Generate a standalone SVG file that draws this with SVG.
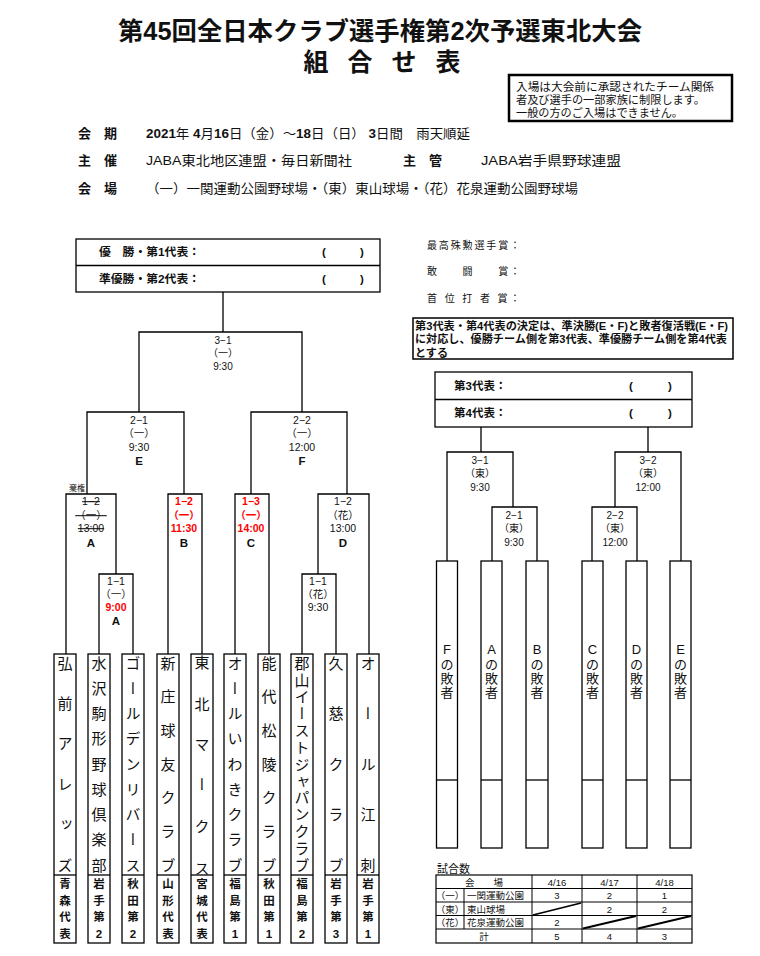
<svg xmlns="http://www.w3.org/2000/svg" width="760" height="956" viewBox="0 0 760 956">
<style>
text{font-family:"Liberation Sans","Noto Sans CJK JP",sans-serif;fill:#111}
.t{font-weight:bold;font-size:25px}
.info{font-size:13px}
.b{font-weight:bold}
.s{font-size:10px;text-anchor:middle}
.m{font-size:10.5px;text-anchor:middle}
.L{font-size:11.5px;font-weight:bold;text-anchor:middle}
.red{fill:#ff0000;font-weight:bold}
.strike{text-decoration:line-through}
.v{font-family:"Noto Sans CJK JP",sans-serif;font-size:15px;writing-mode:vertical-rl}
.pf{font-size:11.5px;font-weight:bold;text-anchor:middle}
.ln{fill:none;stroke:#000;stroke-width:1.3}
.box{fill:#fff;stroke:#000;stroke-width:1.3}
.tb{font-size:9.5px;text-anchor:middle}
</style>

<g id="title">
<text x="380" y="39.5" class="t" text-anchor="middle" textLength="524" lengthAdjust="spacingAndGlyphs">第45回全日本クラブ選手権第2次予選東北大会</text>
<text x="382" y="70.5" class="t" text-anchor="middle" textLength="157" lengthAdjust="spacing">組　合　せ　表</text>
</g>

<g id="entry-note">
<rect x="509" y="75" width="223" height="46" fill="#fff" stroke="#000" stroke-width="2.5"/>
<text x="516" y="91" font-size="11.5" textLength="198" lengthAdjust="spacingAndGlyphs">入場は大会前に承認されたチーム関係</text>
<text x="516" y="104" font-size="11.5" textLength="189" lengthAdjust="spacingAndGlyphs">者及び選手の一部家族に制限します。</text>
<text x="516" y="117" font-size="11.5" textLength="167" lengthAdjust="spacingAndGlyphs">一般の方のご入場はできません。</text>
</g>

<g id="info">
<text x="78" y="138" class="info b">会　期</text>
<text x="146" y="138" class="info" textLength="324" lengthAdjust="spacingAndGlyphs"><tspan class="b">2021</tspan>年 <tspan class="b">4</tspan>月<tspan class="b">16</tspan>日（金）～<tspan class="b">18</tspan>日（日） <tspan class="b">3</tspan>日間　雨天順延</text>
<text x="78" y="165" class="info b">主　催</text>
<text x="146" y="165" class="info" textLength="206" lengthAdjust="spacingAndGlyphs">JABA東北地区連盟・毎日新聞社</text>
<text x="403" y="165" class="info b">主　管</text>
<text x="481" y="165" class="info" textLength="140" lengthAdjust="spacingAndGlyphs">JABA岩手県野球連盟</text>
<text x="78" y="193" class="info b">会　場</text>
<text x="146" y="193" class="info" textLength="432" lengthAdjust="spacingAndGlyphs">（一）一関運動公園野球場・（東）東山球場・（花）花泉運動公園野球場</text>
</g>

<g id="champion-box">
<rect x="76" y="239" width="304" height="53" class="box"/>
<line x1="76" y1="265.5" x2="380" y2="265.5" class="ln"/>
<text x="99" y="256" font-size="11.5" class="b" textLength="101" lengthAdjust="spacingAndGlyphs">優　勝・第1代表：</text>
<text x="99" y="283" font-size="11.5" class="b" textLength="101" lengthAdjust="spacingAndGlyphs">準優勝・第2代表：</text>
<text x="322" y="256" font-size="11.5" class="b">(</text><text x="360" y="256" font-size="11.5" class="b">)</text>
<text x="322" y="283" font-size="11.5" class="b">(</text><text x="360" y="283" font-size="11.5" class="b">)</text>
</g>

<g id="awards">
<text x="427" y="249" font-size="10" fill="#222" textLength="93" lengthAdjust="spacing">最高殊勲選手賞：</text>
<text x="427" y="275" font-size="10" fill="#222" textLength="93" lengthAdjust="spacing">敢　　闘　　賞：</text>
<text x="427" y="302" font-size="10" fill="#222" textLength="93" lengthAdjust="spacing">首 位 打 者 賞：</text>
</g>

<g id="rep-note">
<rect x="413" y="318" width="320" height="41" fill="#fff" stroke="#000" stroke-width="1.5"/>
<text x="415" y="329.5" font-size="11" class="b" textLength="313" lengthAdjust="spacingAndGlyphs">第3代表・第4代表の決定は、準決勝(E・F)と敗者復活戦(E・F)</text>
<text x="415" y="343" font-size="11" class="b" textLength="312" lengthAdjust="spacingAndGlyphs">に対応し、優勝チーム側を第3代表、準優勝チーム側を第4代表</text>
<text x="415" y="356.5" font-size="11" class="b" textLength="33" lengthAdjust="spacingAndGlyphs">とする</text>
</g>

<g id="rep34-box">
<rect x="435" y="372" width="257" height="55" class="box"/>
<line x1="435" y1="399.5" x2="692" y2="399.5" class="ln"/>
<text x="454" y="390" font-size="11.5" class="b">第3代表：</text>
<text x="454" y="417" font-size="11.5" class="b">第4代表：</text>
<text x="629" y="390" font-size="11.5" class="b">(</text><text x="668" y="390" font-size="11.5" class="b">)</text>
<text x="629" y="417" font-size="11.5" class="b">(</text><text x="668" y="417" font-size="11.5" class="b">)</text>
</g>

<g id="connectors">
<path class="ln" d="M223 292V332M139 412V332H302V412M87 494V412H184V494M251 494V412H347V494M66 654V494H116V574M99 654V574H133V654M168 654V494H202V654M235 654V494H269V654M302 654V574H336V654M318 574V494H369V654"/>
<path class="ln" d="M481 427V452M447 561V452H513V507M492 561V507H537V561M648 427V452M681 561V452H615V507M592 561V507H637V561"/>
</g>

<g id="m3-1">
<text x="223" y="344" class="s">3−1</text><text x="223" y="357" class="s">（一）</text><text x="223" y="370" class="s">9:30</text>
</g>
<g id="m2-1">
<text x="139" y="424" class="m">2−1</text><text x="139" y="437" class="m">（一）</text><text x="139" y="451" class="m">9:30</text><text x="139" y="464.5" class="L">E</text>
</g>
<g id="m2-2">
<text x="302" y="424" class="m">2−2</text><text x="302" y="437" class="m">（一）</text><text x="302" y="451" class="m">12:00</text><text x="302" y="464.5" class="L">F</text>
</g>
<g id="mA">
<text x="77" y="491" font-size="8" fill="#ff2020" text-anchor="middle">棄権</text>
<text x="91" y="505" class="m strike">1−2</text><text x="91" y="519" class="m strike">（一）</text><text x="91" y="532" class="m strike">13:00</text><text x="91" y="546.5" class="L">A</text>
</g>
<g id="mB">
<text x="184" y="505" class="m red">1−2</text><text x="184" y="519" class="m red">（一）</text><text x="184" y="532" class="m red">11:30</text><text x="184" y="546.5" class="L">B</text>
</g>
<g id="mC">
<text x="251" y="505" class="m red">1−3</text><text x="251" y="519" class="m red">（一）</text><text x="251" y="532" class="m red">14:00</text><text x="251" y="546.5" class="L">C</text>
</g>
<g id="mD">
<text x="343" y="505" class="m">1−2</text><text x="343" y="519" class="m">（花）</text><text x="343" y="532" class="m">13:00</text><text x="343" y="546.5" class="L">D</text>
</g>
<g id="mA1">
<text x="116" y="585" class="m">1−1</text><text x="116" y="598" class="m">（一）</text><text x="116" y="611" class="m red">9:00</text><text x="116" y="625" class="L">A</text>
</g>
<g id="mD1">
<text x="318" y="585" class="m">1−1</text><text x="318" y="598" class="m">（花）</text><text x="318" y="611" class="m">9:30</text>
</g>

<g id="r3-1"><text x="480" y="464" class="s">3−1</text><text x="480" y="477" class="s">（東）</text><text x="480" y="491" class="s">9:30</text></g>
<g id="r2-1"><text x="514" y="519" class="s">2−1</text><text x="514" y="532" class="s">（東）</text><text x="514" y="546" class="s">9:30</text></g>
<g id="r3-2"><text x="648" y="464" class="s">3−2</text><text x="648" y="477" class="s">（東）</text><text x="648" y="491" class="s">12:00</text></g>
<g id="r2-2"><text x="615" y="519" class="s">2−2</text><text x="615" y="532" class="s">（東）</text><text x="615" y="546" class="s">12:00</text></g>

<g id="team1"><rect x="54" y="654" width="22" height="289" class="box"/><line x1="54" y1="875" x2="76" y2="875" class="ln"/>
<text x="65" y="655.5" class="v" letter-spacing="25.4">弘前アレッズ</text>
<text class="pf"><tspan x="65" y="888">青</tspan><tspan x="65" y="905">森</tspan><tspan x="65" y="921">代</tspan><tspan x="65" y="938">表</tspan></text></g>
<g id="team2"><rect x="88" y="654" width="22" height="289" class="box"/><line x1="88" y1="875" x2="110" y2="875" class="ln"/>
<text x="99" y="655.5" class="v" letter-spacing="10.25">水沢駒形野球倶楽部</text>
<text class="pf"><tspan x="99" y="888">岩</tspan><tspan x="99" y="905">手</tspan><tspan x="99" y="921">第</tspan><tspan x="99" y="938">2</tspan></text></g>
<g id="team3"><rect x="122" y="654" width="22" height="289" class="box"/><line x1="122" y1="875" x2="144" y2="875" class="ln"/>
<text x="133" y="655.5" class="v" letter-spacing="10.25">ゴールデンリバース</text>
<text class="pf"><tspan x="133" y="888">秋</tspan><tspan x="133" y="905">田</tspan><tspan x="133" y="921">第</tspan><tspan x="133" y="938">2</tspan></text></g>
<g id="team4"><rect x="157" y="654" width="22" height="289" class="box"/><line x1="157" y1="875" x2="179" y2="875" class="ln"/>
<text x="168" y="655.5" class="v" letter-spacing="18.67">新庄球友クラブ</text>
<text class="pf"><tspan x="168" y="888">山</tspan><tspan x="168" y="905">形</tspan><tspan x="168" y="921">代</tspan><tspan x="168" y="938">表</tspan></text></g>
<g id="team5"><rect x="191" y="654" width="22" height="289" class="box"/><line x1="191" y1="875" x2="213" y2="875" class="ln"/>
<text x="202" y="654.5" class="v">東</text>
<text x="202" y="697" class="v" font-size="12">北</text>
<text x="202" y="737" class="v" font-size="12">マ</text>
<text x="202" y="777" class="v" font-size="12">ー</text>
<text x="202" y="819" class="v" font-size="12">ク</text>
<text x="202" y="861" class="v" font-size="12">ス</text>
<text class="pf"><tspan x="202" y="888">宮</tspan><tspan x="202" y="905">城</tspan><tspan x="202" y="921">代</tspan><tspan x="202" y="938">表</tspan></text></g>
<g id="team6"><rect x="224" y="654" width="22" height="289" class="box"/><line x1="224" y1="875" x2="246" y2="875" class="ln"/>
<text x="235" y="655.5" class="v" letter-spacing="10.25">オールいわきクラブ</text>
<text class="pf"><tspan x="235" y="888">福</tspan><tspan x="235" y="905">島</tspan><tspan x="235" y="921">第</tspan><tspan x="235" y="938">1</tspan></text></g>
<g id="team7"><rect x="258" y="654" width="22" height="289" class="box"/><line x1="258" y1="875" x2="280" y2="875" class="ln"/>
<text x="269" y="655.5" class="v" letter-spacing="18.67">能代松陵クラブ</text>
<text class="pf"><tspan x="269" y="888">秋</tspan><tspan x="269" y="905">田</tspan><tspan x="269" y="921">第</tspan><tspan x="269" y="938">1</tspan></text></g>
<g id="team8"><rect x="291" y="654" width="22" height="289" class="box"/><line x1="291" y1="875" x2="313" y2="875" class="ln"/>
<text x="302" y="655.5 672.33 689.17 706 722.83 739.67 756.5 773.33 790.17 807 823.83 840.67 857.5" class="v">郡山イーストジャパンクラブ</text>
<text class="pf"><tspan x="302" y="888">福</tspan><tspan x="302" y="905">島</tspan><tspan x="302" y="921">第</tspan><tspan x="302" y="938">2</tspan></text></g>
<g id="team9"><rect x="325" y="654" width="22" height="289" class="box"/><line x1="325" y1="875" x2="347" y2="875" class="ln"/>
<text x="336" y="655.5" class="v" letter-spacing="35.5">久慈クラブ</text>
<text class="pf"><tspan x="336" y="888">岩</tspan><tspan x="336" y="905">手</tspan><tspan x="336" y="921">第</tspan><tspan x="336" y="938">3</tspan></text></g>
<g id="team10"><rect x="357" y="654" width="22" height="289" class="box"/><line x1="357" y1="875" x2="379" y2="875" class="ln"/>
<text x="368" y="655.5" class="v" letter-spacing="35.5">オール江刺</text>
<text class="pf"><tspan x="368" y="888">岩</tspan><tspan x="368" y="905">手</tspan><tspan x="368" y="921">第</tspan><tspan x="368" y="938">1</tspan></text></g>

<g id="loserF"><rect x="436.5" y="561" width="21" height="287" class="box"/><line x1="436.5" y1="780" x2="457.5" y2="780" class="ln"/>
<text font-size="13" text-anchor="middle"><tspan x="447" y="654">F</tspan><tspan x="447" y="669">の</tspan><tspan x="447" y="683">敗</tspan><tspan x="447" y="697">者</tspan></text></g>
<g id="loserA"><rect x="481" y="561" width="21" height="287" class="box"/><line x1="481" y1="780" x2="502" y2="780" class="ln"/>
<text font-size="13" text-anchor="middle"><tspan x="491.5" y="654">A</tspan><tspan x="491.5" y="669">の</tspan><tspan x="491.5" y="683">敗</tspan><tspan x="491.5" y="697">者</tspan></text></g>
<g id="loserB"><rect x="526" y="561" width="22" height="287" class="box"/><line x1="526" y1="780" x2="548" y2="780" class="ln"/>
<text font-size="13" text-anchor="middle"><tspan x="537" y="654">B</tspan><tspan x="537" y="669">の</tspan><tspan x="537" y="683">敗</tspan><tspan x="537" y="697">者</tspan></text></g>
<g id="loserC"><rect x="582" y="561" width="21" height="287" class="box"/><line x1="582" y1="780" x2="603" y2="780" class="ln"/>
<text font-size="13" text-anchor="middle"><tspan x="592.5" y="654">C</tspan><tspan x="592.5" y="669">の</tspan><tspan x="592.5" y="683">敗</tspan><tspan x="592.5" y="697">者</tspan></text></g>
<g id="loserD"><rect x="626" y="561" width="21" height="287" class="box"/><line x1="626" y1="780" x2="647" y2="780" class="ln"/>
<text font-size="13" text-anchor="middle"><tspan x="636.5" y="654">D</tspan><tspan x="636.5" y="669">の</tspan><tspan x="636.5" y="683">敗</tspan><tspan x="636.5" y="697">者</tspan></text></g>
<g id="loserE"><rect x="670" y="561" width="21" height="287" class="box"/><line x1="670" y1="780" x2="691" y2="780" class="ln"/>
<text font-size="13" text-anchor="middle"><tspan x="680.5" y="654">E</tspan><tspan x="680.5" y="669">の</tspan><tspan x="680.5" y="683">敗</tspan><tspan x="680.5" y="697">者</tspan></text></g>

<g id="game-count">
<text x="437" y="873" font-size="11">試合数</text>
<rect x="436" y="875" width="256" height="68" fill="none" stroke="#000" stroke-width="1.2"/>
<path fill="none" stroke="#000" stroke-width="1" d="M436 888.5H692M436 902H692M436 915.5H692M436 929H692M464 888.5V929M532 875V943M582 875V943M637 875V943"/>
<path fill="none" stroke="#000" stroke-width="1.8" d="M533 915L581 903M583 928.5L636 916M638 928.5L691 916"/>
<text x="484" y="885.5" class="tb">会　　場</text>
<text x="557" y="885.5" class="tb" font-size="8.5">4/16</text><text x="609.5" y="885.5" class="tb" font-size="8.5">4/17</text><text x="664.5" y="885.5" class="tb" font-size="8.5">4/18</text>
<text x="450" y="899" class="tb">（一）</text><text x="467" y="899" font-size="9.5">一関運動公園</text>
<text x="557" y="899" class="tb">3</text><text x="609.5" y="899" class="tb">2</text><text x="664.5" y="899" class="tb">1</text>
<text x="450" y="912.5" class="tb">（東）</text><text x="467" y="912.5" font-size="9.5">東山球場</text>
<text x="609.5" y="912.5" class="tb">2</text><text x="664.5" y="912.5" class="tb">2</text>
<text x="450" y="926" class="tb">（花）</text><text x="467" y="926" font-size="9.5">花泉運動公園</text>
<text x="557" y="926" class="tb">2</text>
<text x="484" y="939.5" class="tb">計</text>
<text x="557" y="939.5" class="tb">5</text><text x="609.5" y="939.5" class="tb">4</text><text x="664.5" y="939.5" class="tb">3</text>
</g>
</svg>
